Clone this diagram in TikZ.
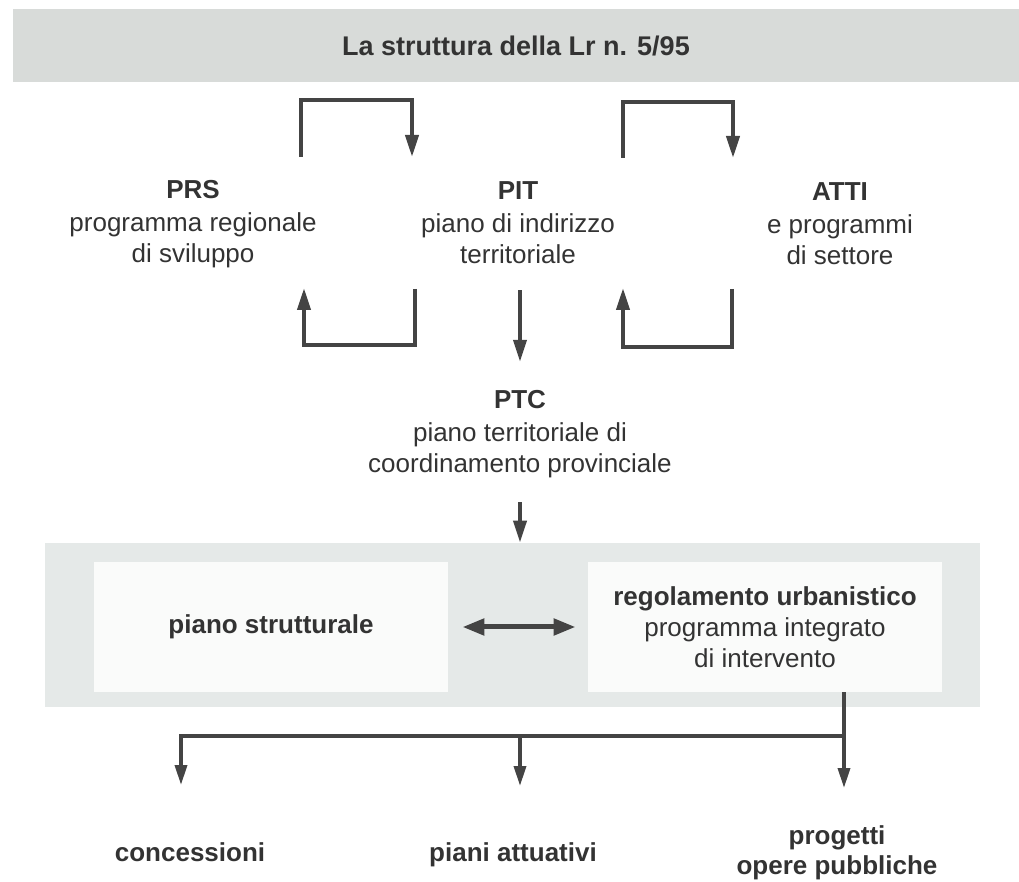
\documentclass[tikz,border=0pt]{standalone}
\usepackage{fontspec}
\setmainfont{Liberation Sans}
\usepackage{tikz}
\usetikzlibrary{arrows.meta}
\definecolor{txtgray}{HTML}{333333}
\definecolor{linegray}{HTML}{444444}
\definecolor{topband}{HTML}{D8DBD9}
\definecolor{lowband}{HTML}{E5E9E8}
\definecolor{boxwhite}{HTML}{FAFBFA}

\begin{document}
\begin{tikzpicture}[x=0.5pt, y=-0.5pt, every node/.style={inner sep=0pt, text=txtgray, font=\fontsize{13}{15.5}\selectfont}]
% Define styles
\tikzstyle{band} = [rectangle, align=center, fill=topband, minimum width=503pt, minimum height=36.5pt]
\tikzstyle{txt} = [align=center]
\tikzstyle{outtxt} = [align=center, font=\fontsize{13}{15}\selectfont\bfseries]
\tikzstyle{plan} = [rectangle, align=center, fill=boxwhite, minimum width=177pt, minimum height=65pt]
\tikzstyle{arrow} = [line width=2pt, draw=linegray, -{Triangle[length=11pt,width=6.5pt]}]
\tikzstyle{arrowb} = [line width=1.7pt, draw=linegray, -{Triangle[length=10pt,width=6pt]}]
\tikzstyle{darrow} = [line width=2.5pt, draw=linegray, {Triangle[length=11pt,width=8pt]}-{Triangle[length=11pt,width=8pt]}, shorten <=7pt, shorten >=6pt]
\useasboundingbox (0,0) rectangle (1019,882);
% Place nodes
\node (title) [band] at (516,45.5) {\fontsize{13.5}{16}\selectfont\bfseries La struttura della Lr n. 5/95};
\node (prs) [txt] at (193,224) {\textbf{PRS}\\[1pt] programma regionale\\ di sviluppo};
\node (pit) [txt] at (518,223) {\textbf{PIT}\\[1pt] piano di indirizzo\\ territoriale};
\node (atti) [txt] at (840,224) {\textbf{ATTI}\\[1pt] e programmi\\ di settore};
\node (ptc) [txt] at (520,434) {\textbf{PTC}\\[1pt] piano territoriale di\\ coordinamento provinciale};
\node (band) [band, fill=lowband, minimum width=467.5pt, minimum height=82pt] at (512.5,625) {};
\node (ps) [plan] at (271,627) {\bfseries piano strutturale};
\node (ru) [plan] at (765,627) {\textbf{regolamento urbanistico}\\ programma integrato\\ di intervento};
\node (conc) [outtxt, anchor=base] at (190,861) {concessioni};
\node (piani) [outtxt, anchor=base] at (513,861) {piani attuativi};
\node (prog) [outtxt] at (837,853) {progetti\\ opere pubbliche};
% loop ends
\coordinate (a1) at (301,157); \coordinate (a2) at (412,157);
\coordinate (b1) at (623,158); \coordinate (b2) at (733,158);
\coordinate (c1) at (415,289); \coordinate (c2) at (304,288);
\coordinate (d1) at (732,289); \coordinate (d2) at (623,288);
\coordinate (fork) at (844,736);
\coordinate (tipC) at (181,785); \coordinate (tipP) at (520,786); \coordinate (tipO) at (844,788);
% Draw arrows
\draw [arrow] (a1) -- ++(0,-57) -| (a2);
\draw [arrow] (b1) -- ++(0,-56) -| (b2);
\draw [arrow] (c1) -- ++(0,56) -| (c2);
\draw [arrow] (d1) -- ++(0,58) -| (d2);
\draw [arrow, shorten <=13pt, shorten >=14pt] (pit.south -| ptc.north) -- (ptc.north);
\draw [arrow, shorten <=12pt] (ptc.south) -- (ptc.south |- band.north);
\draw [darrow] (ps) -- (ru);
\draw [arrowb] (ru.south -| fork) -- (tipO);
\draw [arrowb] (fork) -| (tipC);
\draw [arrowb] (tipP |- fork) -- (tipP);
\end{tikzpicture}
\end{document}
